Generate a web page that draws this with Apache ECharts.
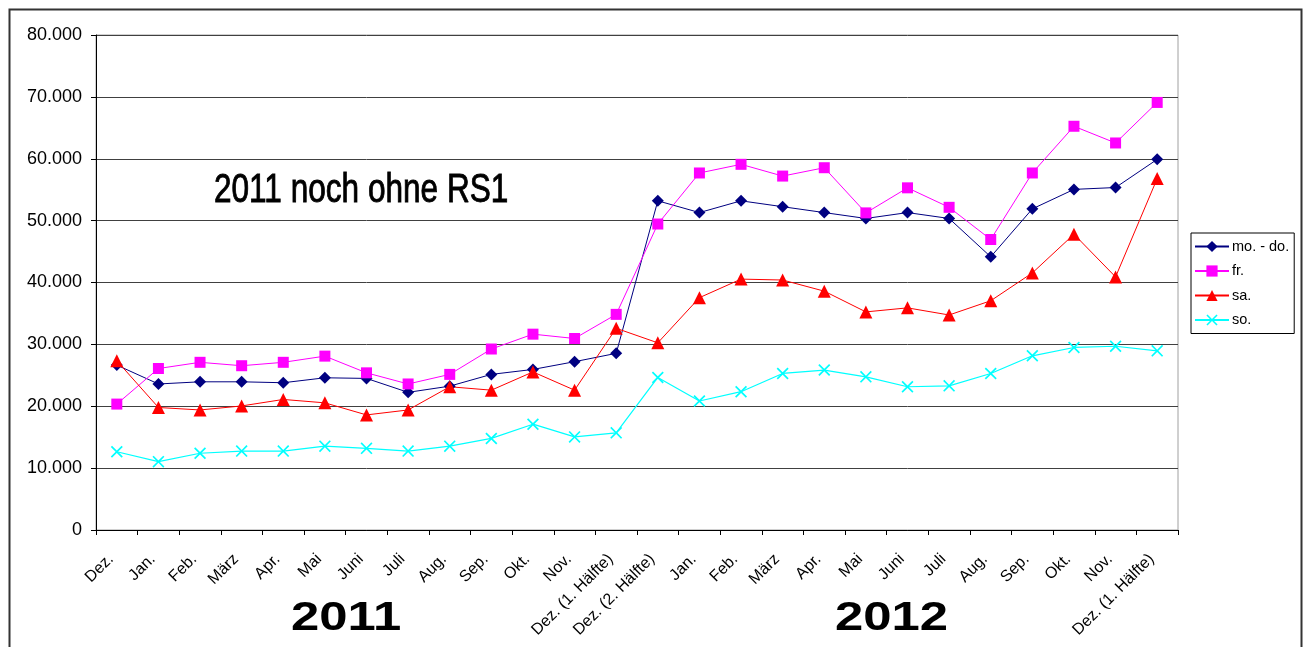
<!DOCTYPE html>
<html>
<head>
<meta charset="utf-8">
<script src="https://cdn.jsdelivr.net/npm/echarts@6/dist/echarts.min.js"></script>
<style>
html,body{margin:0;padding:0;background:#fff;}
#chart{width:1304px;height:647px;}
</style>
</head>
<body>
<div id="chart"></div>
<script>
const categories = ['Dez.','Jan.','Feb.','März','Apr.','Mai','Juni','Juli','Aug.','Sep.','Okt.','Nov.','Dez. (1. Hälfte)','Dez. (2. Hälfte)','Jan.','Feb.','März','Apr.','Mai','Juni','Juli','Aug.','Sep.','Okt.','Nov.','Dez. (1. Hälfte)'];
const moDo = [26650, 23600, 23950, 23950, 23800, 24600, 24500, 22250, 23250, 25150, 25950, 27200, 28550, 53200, 51300, 53200, 52250, 51300, 50350, 51300, 50350, 44150, 51900, 55050, 55350, 59900];
const fr   = [20350, 26100, 27100, 26550, 27100, 28100, 25400, 23600, 25150, 29250, 31650, 30950, 34850, 49450, 57700, 59100, 57200, 58550, 51250, 55300, 52150, 46950, 57700, 65250, 62550, 69100];
const sa   = [27350, 19800, 19400, 20050, 21100, 20550, 18600, 19400, 23150, 22600, 25550, 22600, 32600, 30250, 37550, 40550, 40400, 38600, 35250, 35900, 34750, 37050, 41550, 47800, 40900, 56800];
const so   = [12650, 11050, 12400, 12750, 12750, 13550, 13200, 12750, 13550, 14800, 17100, 15050, 15700, 24650, 20850, 22350, 25300, 25850, 24750, 23150, 23300, 25300, 28150, 29500, 29700, 28950];
const seriesNames = ['mo. - do.', 'fr.', 'sa.', 'so.'];
const yMin = 0, yMax = 80000, yStep = 10000;

const FONT = '"Liberation Sans", Arial, sans-serif';
const crossPath = 'path://M0,1 L1,0 L5,4 L9,0 L10,1 L6,5 L10,9 L9,10 L5,6 L1,10 L0,9 L4,5 Z';

const chart = echarts.init(document.getElementById('chart'), null, {renderer: 'canvas'});
function fmt(v){ return v === 0 ? '0' : v.toLocaleString('de-DE'); }

chart.setOption({
  animation: false,
  backgroundColor: '#fff',
  textStyle: {fontFamily: FONT},
  grid: {left: 96, top: 35, right: 126, bottom: 117, show: true, borderColor: '#a0a0a0', borderWidth: 1, backgroundColor: 'transparent'},
  legend: {
    orient: 'vertical', left: 1191, top: 233,
    padding: [6, 5, 6, 3],
    itemGap: 9.5, itemWidth: 34, itemHeight: 14,
    borderColor: '#000', borderWidth: 1,
    textStyle: {fontSize: 14.5, color: '#000', fontFamily: FONT, padding: [0,0,0,-2]},
    data: seriesNames
  },
  xAxis: {
    type: 'category', data: categories, boundaryGap: true,
    axisLine: {lineStyle: {color: '#000', width: 1}},
    axisTick: {show: true, length: 5, lineStyle: {color: '#000'}},
    axisLabel: {interval: 0, rotate: 45, fontSize: 16, color: '#000', margin: 21, padding: [0, 8, 0, 0], fontFamily: FONT},
    splitLine: {show: false}
  },
  yAxis: {
    type: 'value', min: yMin, max: yMax, interval: yStep,
    axisLine: {show: true, lineStyle: {color: '#000', width: 1}},
    axisTick: {show: true, inside: false, length: 5, lineStyle: {color: '#000'}},
    axisLabel: {fontSize: 18, color: '#000', margin: 14, formatter: fmt, fontFamily: FONT},
    splitLine: {show: true, lineStyle: {color: '#404040', width: 1}}
  },
  graphic: [
    {type: 'rect', left: 7, top: 7, shape: {width: 1292, height: 680}, style: {fill: 'none', stroke: '#333', lineWidth: 2}, z: -1, silent: true},
    {type: 'text', x: 214, y: 170, scaleX: 0.77, style: {text: '2011 noch ohne RS1', font: '41px "Liberation Sans Narrow", "Arial Narrow", "Liberation Sans", sans-serif', fill: '#000', stroke: '#000', lineWidth: 0.9, verticalAlign: 'top'}},
    {type: 'text', x: 291, y: 598, scaleX: 1.24, style: {text: '2011', font: 'bold 41px "Liberation Sans", Arial, sans-serif', fill: '#000', verticalAlign: 'top'}},
    {type: 'text', x: 835, y: 598, scaleX: 1.24, style: {text: '2012', font: 'bold 41px "Liberation Sans", Arial, sans-serif', fill: '#000', verticalAlign: 'top'}}
  ],
  series: [
    {name: seriesNames[0], type: 'line', data: moDo, symbol: 'diamond', symbolSize: 12,
     lineStyle: {color: '#000080', width: 1}, itemStyle: {color: '#000080'}},
    {name: seriesNames[1], type: 'line', data: fr, symbol: 'rect', symbolSize: 11,
     lineStyle: {color: '#ff00ff', width: 1}, itemStyle: {color: '#ff00ff'}},
    {name: seriesNames[2], type: 'line', data: sa, symbol: 'triangle', symbolSize: 13,
     lineStyle: {color: '#ff0000', width: 1}, itemStyle: {color: '#ff0000'}},
    {name: seriesNames[3], type: 'line', data: so, symbol: crossPath, symbolSize: 12,
     lineStyle: {color: '#00ffff', width: 1.2}, itemStyle: {color: '#00ffff'}}
  ]
});
</script>
</body>
</html>
